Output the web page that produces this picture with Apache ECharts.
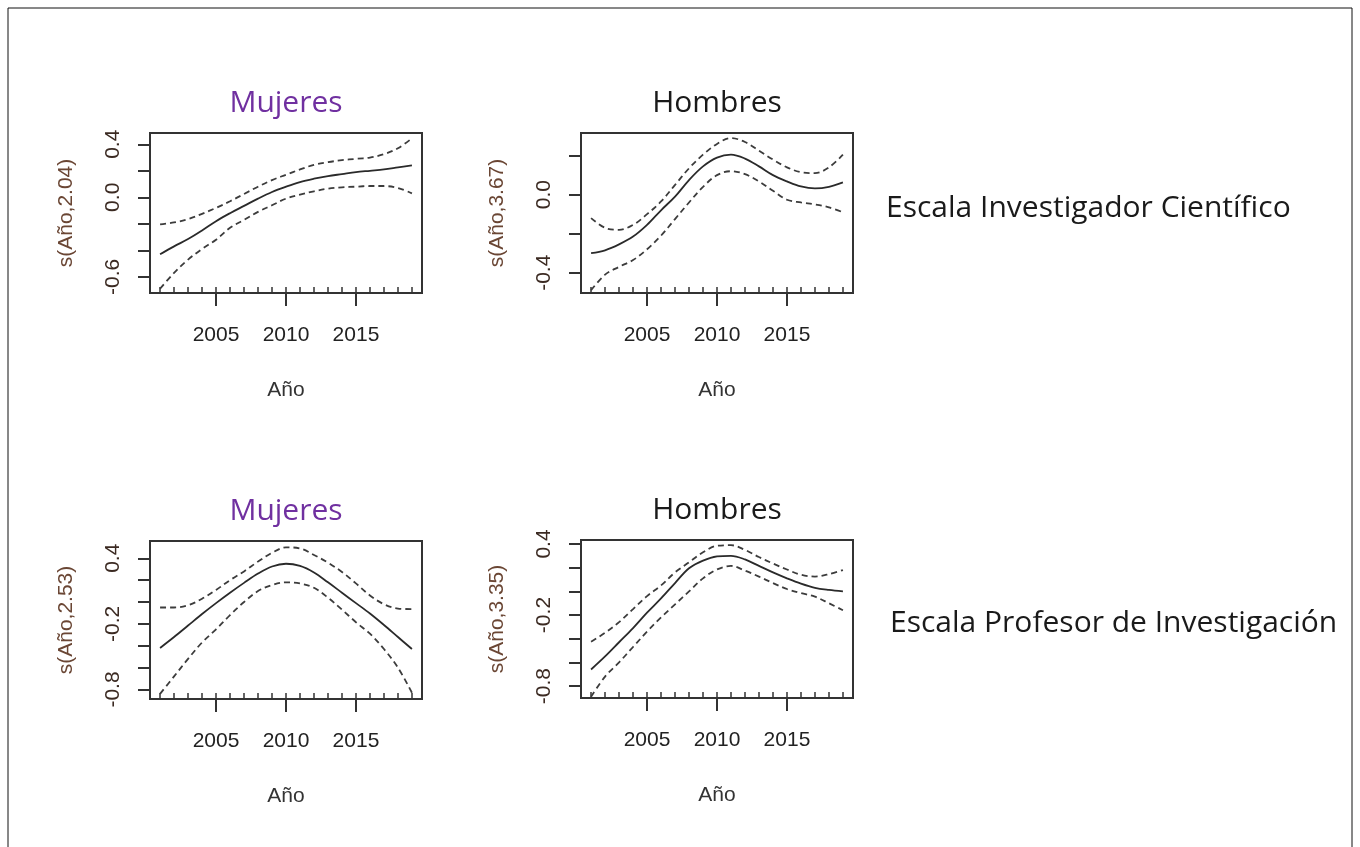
<!DOCTYPE html>
<html>
<head>
<meta charset="utf-8">
<script src="https://cdn.jsdelivr.net/npm/echarts@6/dist/echarts.min.js"></script>
<style>
html,body{margin:0;padding:0;background:#fff;}
#chart{width:1360px;height:847px;}
</style>
</head>
<body>
<div id="chart"></div>
<script>
// ---- Data ----
const years = [2001,2002,2003,2004,2005,2006,2007,2008,2009,2010,2011,2012,2013,2014,2015,2016,2017,2018,2019];

// Escala Investigador Científico - Mujeres  s(Año,2.04)
const icMujFit   = [-0.43,-0.37,-0.315,-0.25,-0.18,-0.12,-0.065,-0.01,0.04,0.08,0.115,0.14,0.16,0.175,0.19,0.20,0.21,0.225,0.24];
const icMujUpper = [-0.205,-0.19,-0.165,-0.125,-0.08,-0.03,0.025,0.08,0.13,0.17,0.21,0.245,0.265,0.28,0.29,0.30,0.325,0.37,0.445];
const icMujLower = [-0.69,-0.57,-0.47,-0.39,-0.32,-0.23,-0.17,-0.11,-0.06,-0.01,0.02,0.045,0.065,0.075,0.08,0.085,0.085,0.07,0.03];

// Escala Investigador Científico - Hombres  s(Año,3.67)
const icHomFit   = [-0.30,-0.285,-0.255,-0.215,-0.155,-0.08,-0.01,0.075,0.145,0.19,0.205,0.185,0.145,0.10,0.068,0.042,0.032,0.04,0.063];
const icHomUpper = [-0.12,-0.17,-0.18,-0.155,-0.10,-0.035,0.05,0.135,0.205,0.26,0.29,0.27,0.225,0.18,0.14,0.115,0.11,0.14,0.205];
const icHomLower = [-0.49,-0.41,-0.37,-0.335,-0.28,-0.21,-0.125,-0.04,0.04,0.10,0.12,0.105,0.068,0.02,-0.026,-0.04,-0.05,-0.065,-0.09];

// Escala Profesor de Investigación - Mujeres  s(Año,2.53)
const piMujFit   = [-0.42,-0.32,-0.215,-0.11,-0.01,0.085,0.175,0.26,0.325,0.35,0.33,0.27,0.18,0.085,-0.01,-0.105,-0.21,-0.32,-0.43];
const piMujUpper = [-0.05,-0.05,-0.03,0.03,0.11,0.20,0.28,0.37,0.45,0.50,0.49,0.43,0.36,0.275,0.17,0.06,-0.02,-0.06,-0.065];
const piMujLower = [-0.84,-0.68,-0.52,-0.37,-0.25,-0.12,0.0,0.10,0.155,0.18,0.17,0.13,0.04,-0.07,-0.185,-0.29,-0.43,-0.60,-0.83];

// Escala Profesor de Investigación - Hombres  s(Año,3.35)
const piHomFit   = [-0.66,-0.55,-0.43,-0.31,-0.18,-0.06,0.07,0.195,0.26,0.295,0.30,0.27,0.215,0.16,0.11,0.065,0.03,0.012,0.0];
const piHomUpper = [-0.425,-0.35,-0.26,-0.15,-0.04,0.05,0.16,0.245,0.33,0.385,0.39,0.35,0.29,0.235,0.185,0.14,0.125,0.145,0.18];
const piHomLower = [-0.89,-0.72,-0.60,-0.47,-0.34,-0.22,-0.11,0.0,0.11,0.185,0.215,0.175,0.125,0.07,0.02,-0.015,-0.045,-0.10,-0.16];

const xTickLabels = [2005, 2010, 2015];
const panelTitles = ['Mujeres', 'Hombres', 'Mujeres', 'Hombres'];
const yNames = ['s(Año,2.04)', 's(Año,3.67)', 's(Año,2.53)', 's(Año,3.35)'];
const yTicks = [
  [-0.6,-0.4,-0.2,0.0,0.2,0.4],
  [-0.4,-0.2,0.0,0.2],
  [-0.8,-0.6,-0.4,-0.2,0.0,0.2,0.4],
  [-0.8,-0.6,-0.4,-0.2,0.0,0.2,0.4]
];
const yTickLabels = [
  [-0.6,0.0,0.4],
  [-0.4,0.0],
  [-0.8,-0.2,0.4],
  [-0.8,-0.2,0.4]
];
const rowLabels = ['Escala Investigador Científico', 'Escala Profesor de Investigación'];

// ---- Layout ----
const panels = [
  {grid:{left:150, top:133, width:272, height:160}, ymin:-0.722, ymax:0.485, data:[icMujFit, icMujUpper, icMujLower]},
  {grid:{left:581, top:133, width:272, height:160}, ymin:-0.504, ymax:0.316, data:[icHomFit, icHomUpper, icHomLower]},
  {grid:{left:150, top:541, width:272, height:158}, ymin:-0.887, ymax:0.558, data:[piMujFit, piMujUpper, piMujLower]},
  {grid:{left:581, top:540, width:272, height:158}, ymin:-0.901, ymax:0.434, data:[piHomFit, piHomUpper, piHomLower]}
];
const XMIN = 2000.28, XMAX = 2019.72;
const rFont = 'Liberation Sans, Arial, sans-serif';
const titleFont = '"Open Sans", Lato, sans-serif';

const grids = [], xAxes = [], yAxes = [], series = [], graphics = [];
panels.forEach((p, i) => {
  grids.push(Object.assign({show:true, borderColor:'#333', borderWidth:2, backgroundColor:'transparent', containLabel:false}, p.grid));
  // main x axis
  xAxes.push({
    type:'value', gridIndex:i, min:XMIN, max:XMAX, position:'bottom',
    axisLine:{show:true, onZero:false, lineStyle:{color:'#333', width:2}},
    axisTick:{show:true, inside:false, length:13, customValues:xTickLabels, lineStyle:{color:'#333', width:2}},
    axisLabel:{show:true, customValues:xTickLabels, margin:32, color:'#222', fontSize:21, fontFamily:rFont, formatter: v => String(v)},
    splitLine:{show:false},
    name:'Año', nameLocation:'middle', nameGap:87,
    nameTextStyle:{color:'#333', fontSize:21, fontFamily:rFont}
  });
  // rug axis
  xAxes.push({
    type:'value', gridIndex:i, min:XMIN, max:XMAX, position:'bottom',
    axisLine:{show:false, onZero:false},
    axisTick:{show:true, inside:true, length:6, customValues:years, lineStyle:{color:'#333', width:1.5}},
    axisLabel:{show:false},
    splitLine:{show:false}
  });
  yAxes.push({
    type:'value', gridIndex:i, min:p.ymin, max:p.ymax, position:'left',
    axisLine:{show:true, onZero:false, lineStyle:{color:'#333', width:2}},
    axisTick:{show:true, inside:false, length:12, customValues:yTicks[i], lineStyle:{color:'#333', width:2}},
    axisLabel:{show:true, customValues:yTickLabels[i], rotate:90, margin:26, color:'#3b2a22', fontSize:21, fontFamily:rFont,
      formatter: v => v.toFixed(1)},
    splitLine:{show:false},
    name:yNames[i], nameLocation:'middle', nameGap:73, nameRotate:90,
    nameTextStyle:{color:'#6a4634', fontSize:21, fontFamily:rFont}
  });
  const styles = [
    {color:'#2a2a2a', width:1.8, type:'solid'},
    {color:'#3c3c3c', width:1.8, type:[6,4]},
    {color:'#3c3c3c', width:1.8, type:[6,4]}
  ];
  p.data.forEach((arr, k) => {
    series.push({
      type:'line', xAxisIndex:2*i, yAxisIndex:i, symbol:'none', smooth:0.35,
      data: years.map((y, j) => [y, arr[j]]),
      lineStyle: styles[k], silent:true, animation:false
    });
  });
  const g = p.grid;
  graphics.push({
    type:'text', x:g.left + g.width/2, y:g.top - 30,
    style:{text:panelTitles[i], align:'center', verticalAlign:'middle', textAlign:'center', textVerticalAlign:'middle',
      fill: (i % 2 === 0) ? '#7030A0' : '#1a1a1a', font:'30px ' + titleFont}
  });
});
graphics.push({
  type:'text', x:886, y:208,
  style:{text:rowLabels[0], align:'left', verticalAlign:'middle', textAlign:'left', textVerticalAlign:'middle', fill:'#1a1a1a', font:'30px ' + titleFont}
});
graphics.push({
  type:'text', x:890, y:623,
  style:{text:rowLabels[1], align:'left', verticalAlign:'middle', textAlign:'left', textVerticalAlign:'middle', fill:'#1a1a1a', font:'30px ' + titleFont}
});
graphics.push({
  type:'rect', shape:{x:8, y:8, width:1344, height:900}, silent:true,
  style:{fill:'none', stroke:'#111', lineWidth:1}
});

const chart = echarts.init(document.getElementById('chart'), null, {renderer:'canvas'});
chart.setOption({
  backgroundColor:'#fff',
  animation:false,
  grid:grids, xAxis:xAxes, yAxis:yAxes, series:series, graphic:graphics
});
</script>
</body>
</html>
